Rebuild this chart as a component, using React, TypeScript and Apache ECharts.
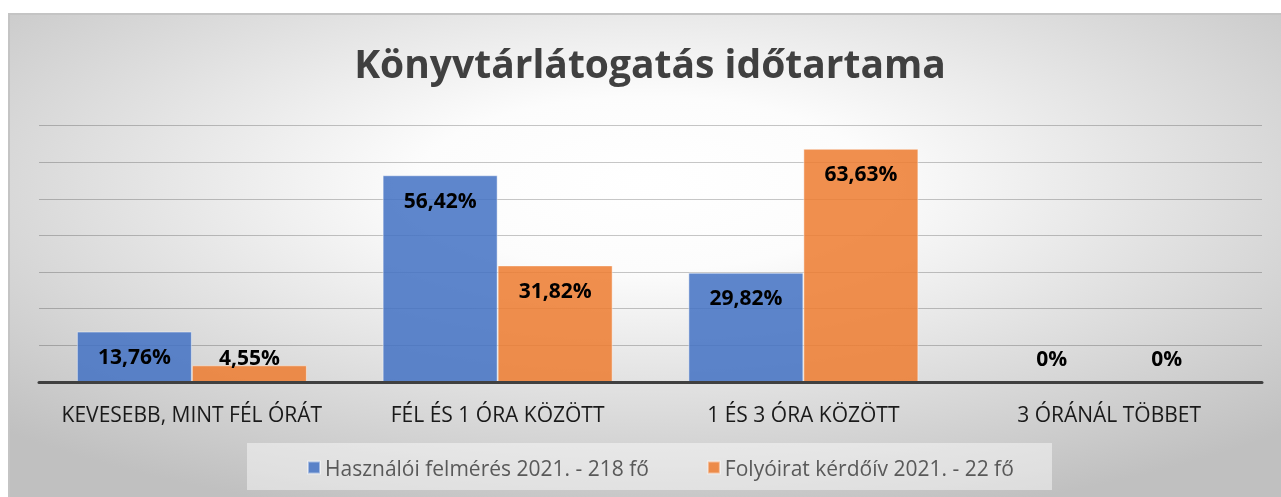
import React, { useEffect, useRef } from "react";
import * as echarts from "echarts";

const titleText = "Könyvtárlátogatás időtartama";
const categories = [
  "KEVESEBB, MINT FÉL ÓRÁT",
  "FÉL ÉS 1 ÓRA KÖZÖTT",
  "1 ÉS 3 ÓRA KÖZÖTT",
  "3 ÓRÁNÁL TÖBBET",
];
const seriesNames = [
  "Használói felmérés 2021. - 218 fő",
  "Folyóirat kérdőív 2021. - 22 fő",
];
const surveyValues = [13.76, 56.42, 29.82, 0];
const journalValues = [4.55, 31.82, 63.63, 0];
const yMin = 0;
const yMax = 70;
const yInterval = 10;

const FONT = "'Open Sans'";

function fmt(v: number): string {
  if (v === 0) return "0%";
  return v.toFixed(2).replace(".", ",") + "%";
}

function placeLabel(p: any) {
  const bottom = p.rect.y + p.rect.height;
  return {
    x: p.rect.x + p.rect.width / 2,
    y: Math.min(p.rect.y + 24.5, bottom - 25),
    align: "center",
    verticalAlign: "middle",
  };
}

export default function App() {
  const ref = useRef<HTMLDivElement>(null);
  useEffect(() => {
    if (!ref.current) return;
    const chart = echarts.init(ref.current, undefined, { renderer: "svg" });
    const labelCfg = {
      show: true,
      position: "insideTop",
      color: "#000",
      fontFamily: FONT,
      fontWeight: "bold",
      fontSize: 21,
      formatter: (p: any) => fmt(p.value),
    };
    chart.setOption({
      animation: false,
      backgroundColor: {
        type: "radial",
        x: 0.5,
        y: 0.35,
        r: 0.72,
        colorStops: [
          { offset: 0, color: "#ffffff" },
          { offset: 0.25, color: "#fcfcfc" },
          { offset: 1, color: "#c0c0c0" },
        ],
      },
      title: {
        text: titleText,
        left: 640,
        textAlign: "center",
        top: 28,
        padding: 0,
        textStyle: {
          fontFamily: FONT,
          fontWeight: "bold",
          fontSize: 39,
          color: "#404040",
        },
      },
      graphic: [
        {
          type: "rect",
          left: 237,
          top: 428,
          shape: { width: 805, height: 47 },
          style: { fill: "rgba(255,255,255,0.45)" },
          z: -1,
          silent: true,
        },
      ],
      legend: {
        left: 292,
        top: 437,
        itemWidth: 12,
        itemHeight: 12,
        itemGap: 58,
        icon: "rect",
        textStyle: {
          fontFamily: FONT,
          fontSize: 21,
          color: "#595959",
        },
        data: seriesNames,
      },
      grid: {
        left: 29,
        right: 19,
        top: 110.5,
        bottom: 115,
        containLabel: false,
      },
      xAxis: {
        type: "category",
        data: categories,
        axisLine: { show: true, lineStyle: { color: "#404040", width: 3 } },
        axisTick: { show: false },
        axisLabel: {
          margin: 21,
          fontFamily: FONT,
          fontSize: 21,
          color: "#1a1a1a",
          interval: 0,
        },
        z: 5,
      },
      yAxis: {
        type: "value",
        min: yMin,
        max: yMax,
        interval: yInterval,
        axisLabel: { show: false },
        axisLine: { show: false },
        axisTick: { show: false },
        splitLine: { lineStyle: { color: "rgba(0,0,0,0.22)", width: 1 } },
      },
      series: [
        {
          name: seriesNames[0],
          type: "bar",
          data: surveyValues,
          barWidth: 115,
          barGap: "0%",
          itemStyle: {
            color: "rgba(68,114,196,0.86)",
            borderColor: "rgba(255,255,255,0.45)",
            borderWidth: 1,
          },
          label: labelCfg,
          labelLayout: placeLabel,
        },
        {
          name: seriesNames[1],
          type: "bar",
          data: journalValues,
          barWidth: 115,
          barGap: "0%",
          itemStyle: {
            color: "rgba(237,125,49,0.86)",
            borderColor: "rgba(255,255,255,0.45)",
            borderWidth: 1,
          },
          label: labelCfg,
          labelLayout: placeLabel,
        },
      ],
    });
    return () => chart.dispose();
  }, []);
  return (
    <div
      style={{
        position: "fixed",
        left: 8,
        top: 13,
        right: 0,
        bottom: 0,
        borderTop: "2px solid #c4c4c4",
        borderLeft: "2px solid #c4c4c4",
        boxSizing: "border-box",
      }}
    >
      <div ref={ref} style={{ width: 1271, height: 482 }} />
    </div>
  );
}
